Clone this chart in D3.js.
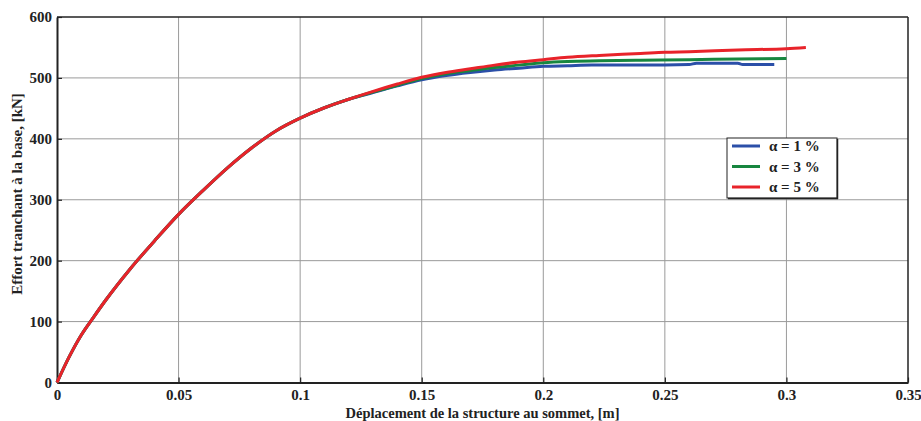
<!DOCTYPE html>
<html><head><meta charset="utf-8">
<script src="https://cdn.jsdelivr.net/npm/d3@7"></script>
<style>
body{margin:0;background:#fff;}
text{font-family:"Liberation Serif","Times New Roman",serif;font-weight:bold;}
</style></head>
<body><svg id="c" width="921" height="421"></svg>
<script>
// Data
const xTicks = [0,0.05,0.1,0.15,0.2,0.25,0.3,0.35];
const xTickLabels = ["0","0.05","0.1","0.15","0.2","0.25","0.3","0.35"];
const yTicks = [0,100,200,300,400,500,600];
const seriesNames = ["α = 1 %","α = 3 %","α = 5 %"];
const seriesColors = ["#2b4fa8","#17863f","#e8232a"];
const commonX = [0,0.005,0.01,0.015,0.02,0.03,0.04,0.05,0.06,0.07,0.08,0.09,0.1,0.11,0.12];
const commonY = [0,42,78,107,135,186,232,276,315,352,385,413,434,451,465];
const blueX = [0.13,0.14,0.15,0.16,0.17,0.18,0.19,0.2,0.21,0.22,0.24,0.26,0.263,0.28,0.282,0.295];
const blueY = [476,487,497,504,509,513,516,519,520,521,521,522,524,524,522,522];
const greenX = [0.13,0.14,0.15,0.16,0.17,0.18,0.19,0.2,0.21,0.223,0.24,0.26,0.28,0.3];
const greenY = [477,488,499,507,512,517,521,525,527,528,529,530,531,532];
const redX = [0.13,0.14,0.15,0.16,0.17,0.18,0.19,0.2,0.21,0.223,0.24,0.25,0.26,0.28,0.3,0.308];
const redY = [478,490,501,509,515,521,526,530,534,537,540,542,543,546,548,550];

const build = (xs, ys) => commonX.map((x,i)=>[x,commonY[i]]).concat(xs.map((x,i)=>[x,ys[i]]));
const series = [build(blueX,blueY), build(greenX,greenY), build(redX,redY)];

const svg = d3.select("#c");
const L=57, R=908, T=17, B=382.5;
const x = d3.scaleLinear().domain([0,0.35]).range([L,R]);
const y = d3.scaleLinear().domain([0,600]).range([B,T]);

// grid
const g = svg.append("g");
g.selectAll(".gx").data(xTicks.slice(1,-1)).enter().append("line")
 .attr("x1",d=>x(d)).attr("x2",d=>x(d)).attr("y1",T).attr("y2",B)
 .attr("stroke","#9a9a9a").attr("stroke-width",1);
g.selectAll(".gy").data(yTicks.slice(1,-1)).enter().append("line")
 .attr("y1",d=>y(d)).attr("y2",d=>y(d)).attr("x1",L).attr("x2",R)
 .attr("stroke","#9a9a9a").attr("stroke-width",1);

// axes
const xa = svg.append("g").attr("transform",`translate(0,${B})`)
 .call(d3.axisBottom(x).tickValues(xTicks).tickFormat((d,i)=>xTickLabels[i]).tickSizeInner(-5).tickSizeOuter(0).tickPadding(7));
const ya = svg.append("g").attr("transform",`translate(${L},0)`)
 .call(d3.axisLeft(y).tickValues(yTicks).tickSizeInner(-5).tickSizeOuter(0).tickPadding(5));
[xa,ya].forEach(a=>{
 a.select(".domain").attr("stroke","#222").attr("stroke-width",2);
 a.selectAll(".tick line").attr("stroke","#222").attr("stroke-width",1.2);
 a.selectAll(".tick text").attr("font-size",15).attr("fill","#222")
  .attr("font-family","'Liberation Serif',serif").attr("font-weight","bold");
});
// top & right frame
svg.append("line").attr("x1",L).attr("x2",R).attr("y1",T).attr("y2",T).attr("stroke","#222").attr("stroke-width",1.5);
svg.append("line").attr("x1",R).attr("x2",R).attr("y1",T).attr("y2",B).attr("stroke","#222").attr("stroke-width",1.5);

// curves
const line = d3.line().x(d=>x(d[0])).y(d=>y(d[1])).curve(d3.curveMonotoneX);
series.forEach((s,i)=>{
 svg.append("path").datum(s).attr("d",line).attr("fill","none")
  .attr("stroke",seriesColors[i]).attr("stroke-width",3).attr("stroke-linejoin","round");
});

// titles
svg.append("text").attr("x",(L+R)/2).attr("y",418).attr("text-anchor","middle")
 .attr("font-size",14.5).attr("fill","#222").text("Déplacement de la structure au sommet, [m]");
svg.append("text").attr("transform",`translate(22,${194}) rotate(-90)`).attr("text-anchor","middle")
 .attr("font-size",15).attr("fill","#222").text("Effort tranchant à la base, [kN]");

// legend
const lg = svg.append("g");
lg.append("rect").attr("x",727).attr("y",138).attr("width",110).attr("height",60)
 .attr("fill","#fff").attr("stroke","#222").attr("stroke-width",1);
lg.append("line").attr("x1",837.5).attr("x2",837.5).attr("y1",139).attr("y2",199).attr("stroke","#222").attr("stroke-width",1.5);
lg.append("line").attr("x1",728).attr("x2",838).attr("y1",198.5).attr("y2",198.5).attr("stroke","#222").attr("stroke-width",1.5);
seriesNames.forEach((n,i)=>{
 const yy = 146 + i*20.5;
 lg.append("line").attr("x1",732).attr("x2",760).attr("y1",yy).attr("y2",yy)
  .attr("stroke",seriesColors[i]).attr("stroke-width",3);
 lg.append("text").attr("x",769).attr("y",yy+5).attr("font-size",15).attr("fill","#222").text(n);
});
</script></body></html>
